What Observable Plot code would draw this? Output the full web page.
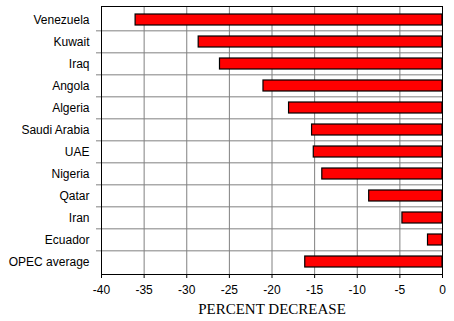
<!DOCTYPE html>
<html>
<head>
<meta charset="utf-8">
<script src="https://cdn.jsdelivr.net/npm/d3@7"></script>
<script src="https://cdn.jsdelivr.net/npm/@observablehq/plot@0.6"></script>
<style>
  html, body { margin: 0; padding: 0; background: #fff; }
  #chart svg { display: block; }
</style>
</head>
<body>
<div id="chart"></div>
<script>
const categories = ["Venezuela", "Kuwait", "Iraq", "Angola", "Algeria", "Saudi Arabia", "UAE", "Nigeria", "Qatar", "Iran", "Ecuador", "OPEC average"];
const values = [-36.0, -28.6, -26.1, -21.0, -18.0, -15.3, -15.1, -14.1, -8.6, -4.7, -1.7, -16.1];
const xTicks = [-40, -35, -30, -25, -20, -15, -10, -5, 0];
const xLabel = "PERCENT DECREASE";

const data = categories.map((c, i) => ({category: c, value: values[i]}));

const W = 454, H = 321, MT = 6, MB = 47, ML = 101, MR = 12;
const step = (H - MT - MB) / categories.length;

const chart = Plot.plot({
  width: W,
  height: H,
  marginLeft: ML,
  marginRight: MR,
  marginTop: MT,
  marginBottom: MB,
  style: {fontFamily: "'Liberation Sans', Arial, sans-serif", fontSize: "12px", background: "#fff", color: "#000"},
  x: {domain: [-40, 0], ticks: xTicks, label: null, tickSize: 4, tickPadding: 7, tickFormat: d => String(d)},
  y: {domain: categories, paddingInner: 0.5, paddingOuter: 0.25, label: null, tickSize: 0, tickPadding: 12},
  marks: [
    Plot.ruleX(xTicks, {stroke: "#808080", strokeWidth: 1}),
    Plot.ruleY(categories.slice(1), {y: d => d, x1: -40, x2: 0, dy: -step / 2, insetLeft: -5, stroke: "#808080", strokeWidth: 1}),
    Plot.barX(data, {y: "category", x1: 0, x2: "value", fill: "#ff0000", stroke: "#000", strokeWidth: 1.2}),
    Plot.frame({stroke: "#000", strokeWidth: 1}),
    Plot.text([xLabel], {frameAnchor: "bottom", dy: 39, fontFamily: "'Liberation Serif', 'Times New Roman', serif", fontSize: 15, fill: "#000"})
  ]
});
document.getElementById("chart").appendChild(chart);
</script>
</body>
</html>
